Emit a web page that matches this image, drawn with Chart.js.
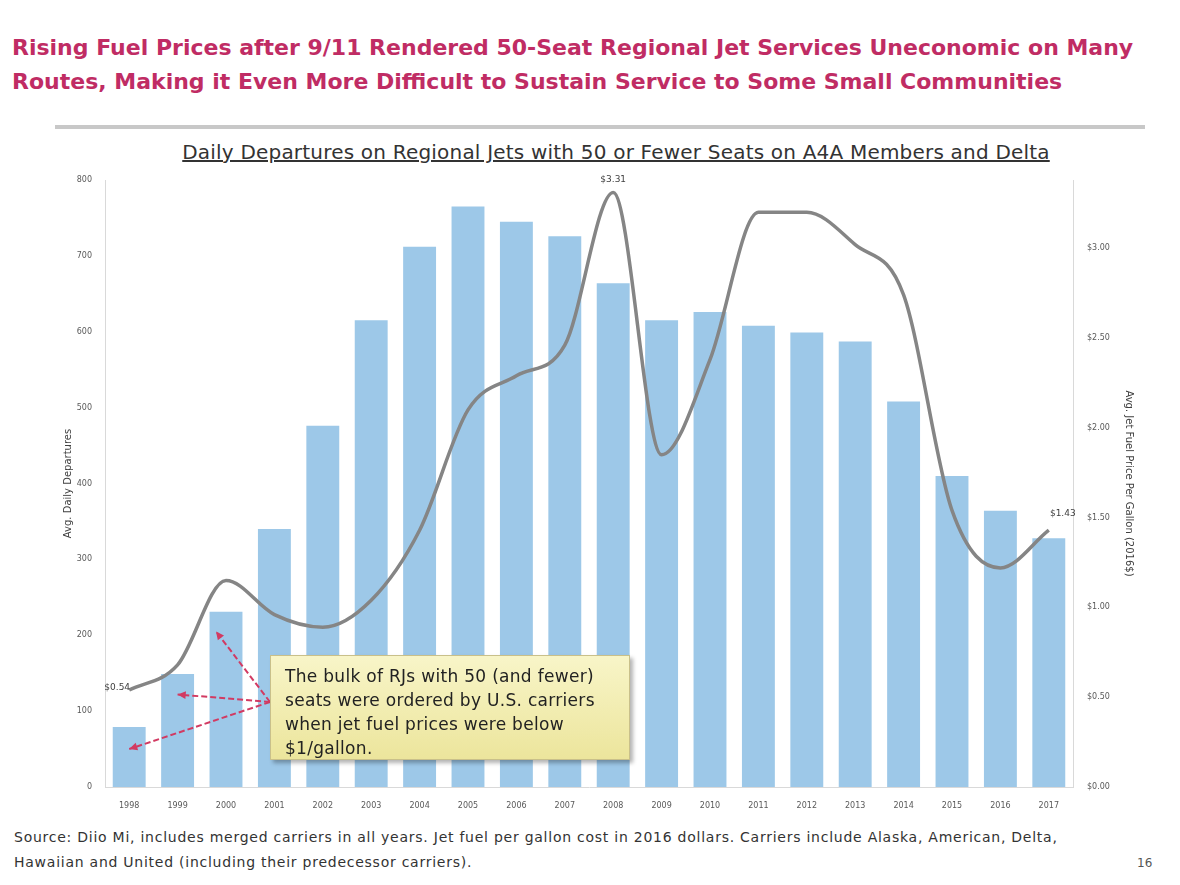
<!DOCTYPE html>
<html>
<head>
<meta charset="utf-8">
<script src="https://cdn.jsdelivr.net/npm/chart.js@4.4.1/dist/chart.umd.min.js"></script>
<style>
  html, body { margin: 0; padding: 0; background: #fff; }
  body { width: 1180px; height: 885px; position: relative; overflow: hidden; font-family: "DejaVu Sans", Verdana, sans-serif; }
  #title { position: absolute; left: 12px; top: 31px; width: 1170px; color: #c02c64; font-weight: bold; font-size: 22px; line-height: 34px; white-space: nowrap; }
  #rule { position: absolute; left: 55px; top: 125px; width: 1090px; height: 4px; background: #c8c8c8; }
  #chartTitle { position: absolute; left: 0; top: 140px; width: 1232px; text-align: center; color: #333; font-size: 20px; letter-spacing: 0.2px; text-decoration: underline; white-space: nowrap; }
  #wrap { position: absolute; left: 0; top: 160px; width: 1180px; height: 660px; }
  #note { position: absolute; left: 270px; top: 655px; width: 336px; height: 89px; padding: 8px 8px 6px 14px;
          background: linear-gradient(#f8f5c8, #ece59c); border: 1px solid #c9c08a; box-shadow: 3px 3px 4px rgba(0,0,0,0.3);
          color: #222; font-size: 17px; letter-spacing: 0.3px; line-height: 24px; white-space: nowrap; }
  #source { position: absolute; left: 14px; top: 825px; width: 1160px; color: #333; font-size: 14px; line-height: 25px; letter-spacing: 0.75px; white-space: nowrap; }
  #page { position: absolute; left: 1137px; top: 856px; color: #555; font-size: 12px; }
</style>
</head>
<body>
<div id="title">Rising Fuel Prices after 9/11 Rendered 50-Seat Regional Jet Services Uneconomic on Many<br>Routes, Making it Even More Difficult to Sustain Service to Some Small Communities</div>
<div id="rule"></div>
<div id="chartTitle">Daily Departures on Regional Jets with 50 or Fewer Seats on A4A Members and Delta</div>
<div id="wrap"><canvas id="chart"></canvas></div>
<div id="note">The bulk of RJs with 50 (and fewer)<br>seats were ordered by U.S. carriers<br>when jet fuel prices were below<br>$1/gallon.</div>
<div id="source">Source: Diio Mi, includes merged carriers in all years. Jet fuel per gallon cost in 2016 dollars. Carriers include Alaska, American, Delta,<br>Hawaiian and United (including their predecessor carriers).</div>
<div id="page">16</div>
<script>
const years = ["1998", "1999", "2000", "2001", "2002", "2003", "2004", "2005", "2006", "2007",
  "2008", "2009", "2010", "2011", "2012", "2013", "2014", "2015", "2016", "2017"];
const departures = [79, 149, 231, 340, 476, 615, 712, 765, 745, 726, 664, 615, 626, 608, 599, 587, 508, 410, 364, 328];
const fuelPrice = [0.54, 0.68, 1.15, 0.96, 0.89, 1.04, 1.43, 2.10, 2.29, 2.46, 3.31, 1.85, 2.38, 3.20, 3.20, 3.02, 2.74, 1.54, 1.22, 1.43];
const labelledYears = ["1998", "2008", "2017"];
// arrows from the note to the early bars: [year, departures level]
const arrowTargets = [["1998", 50], ["1999", 122], ["2000", 205]];

const axisGray = "#d9d9d9";
const tickColor = "#595959";

const fuelLabels = {
  id: "fuelLabels",
  afterDatasetsDraw(chart) {
    const ctx = chart.ctx;
    const x = chart.scales.x, y1 = chart.scales.y1;
    const offsets = { "1998": [-12, -2], "2008": [0, -13], "2017": [14, -17] };
    ctx.save();
    ctx.font = "9px 'DejaVu Sans', Verdana";
    ctx.fillStyle = "#404040";
    ctx.textAlign = "center";
    ctx.textBaseline = "middle";
    labelledYears.forEach(yr => {
      const i = years.indexOf(yr);
      const px = x.getPixelForValue(i), py = y1.getPixelForValue(fuelPrice[i]);
      const o = offsets[yr];
      ctx.fillText("$" + fuelPrice[i].toFixed(2), px + o[0], py + o[1]);
    });
    ctx.restore();
  }
};

const noteArrows = {
  id: "noteArrows",
  afterDraw(chart) {
    const ctx = chart.ctx;
    const note = document.getElementById("note").getBoundingClientRect();
    const cv = chart.canvas.getBoundingClientRect();
    const sx = note.left - cv.left, sy = note.top - cv.top + 47;
    ctx.save();
    ctx.strokeStyle = "#d23a62";
    ctx.fillStyle = "#d23a62";
    ctx.lineWidth = 2;
    arrowTargets.forEach(([yr, lvl], k) => {
      const i = years.indexOf(yr);
      const ex = chart.scales.x.getPixelForValue(i) - (k === 2 ? 10 : 0);
      const ey = chart.scales.y.getPixelForValue(lvl);
      ctx.setLineDash([6, 3]);
      ctx.beginPath();
      ctx.moveTo(sx, sy);
      ctx.lineTo(ex, ey);
      ctx.stroke();
      ctx.setLineDash([]);
      const a = Math.atan2(ey - sy, ex - sx);
      ctx.beginPath();
      ctx.moveTo(ex, ey);
      ctx.lineTo(ex - 9 * Math.cos(a - 0.45), ey - 9 * Math.sin(a - 0.45));
      ctx.lineTo(ex - 9 * Math.cos(a + 0.45), ey - 9 * Math.sin(a + 0.45));
      ctx.closePath();
      ctx.fill();
    });
    ctx.restore();
  }
};

Chart.defaults.font.family = "'DejaVu Sans', Verdana, sans-serif";

new Chart(document.getElementById("chart"), {
  data: {
    labels: years,
    datasets: [
      {
        type: "line",
        label: "Jet fuel per gallon",
        data: fuelPrice,
        yAxisID: "y1",
        borderColor: "#858585",
        borderWidth: 3.5,
        cubicInterpolationMode: "monotone",
        pointRadius: 0,
        order: 0
      },
      {
        type: "bar",
        label: "Daily departures",
        data: departures,
        yAxisID: "y",
        backgroundColor: "#9dc8e8",
        barPercentage: 0.68,
        categoryPercentage: 1,
        order: 1
      }
    ]
  },
  options: {
    responsive: true,
    maintainAspectRatio: false,
    animation: false,
    layout: { padding: { left: 62, right: 45, top: 20, bottom: 0 } },
    plugins: { legend: { display: false }, tooltip: { enabled: false } },
    scales: {
      x: {
        grid: { display: false },
        border: { color: axisGray },
        ticks: { color: tickColor, font: { size: 8 }, maxRotation: 0, autoSkip: false, padding: 6 },
        afterFit: s => { s.height = 33; }
      },
      y: {
        position: "left",
        min: 0,
        max: 800,
        grid: { display: false },
        border: { color: axisGray },
        ticks: { stepSize: 100, color: tickColor, font: { size: 8 }, padding: 5 },
        title: { display: true, text: "Avg. Daily Departures", color: "#404040", font: { size: 10 }, padding: 0 },
        afterFit: s => { s.width = 43; }
      },
      y1: {
        position: "right",
        min: 0,
        max: 3.38,
        grid: { display: false },
        border: { color: axisGray },
        ticks: { stepSize: 0.5, color: tickColor, font: { size: 8 }, padding: 6, callback: v => "$" + Number(v).toFixed(2) },
        afterBuildTicks: s => { s.ticks = s.ticks.filter(t => Math.abs(t.value * 2 - Math.round(t.value * 2)) < 1e-6); },
        title: { display: true, text: "Avg. Jet Fuel Price Per Gallon (2016$)", color: "#404040", font: { size: 10 }, padding: 0 },
        afterFit: s => { s.width = 62; }
      }
    }
  },
  plugins: [fuelLabels, noteArrows]
});
</script>
</body>
</html>
